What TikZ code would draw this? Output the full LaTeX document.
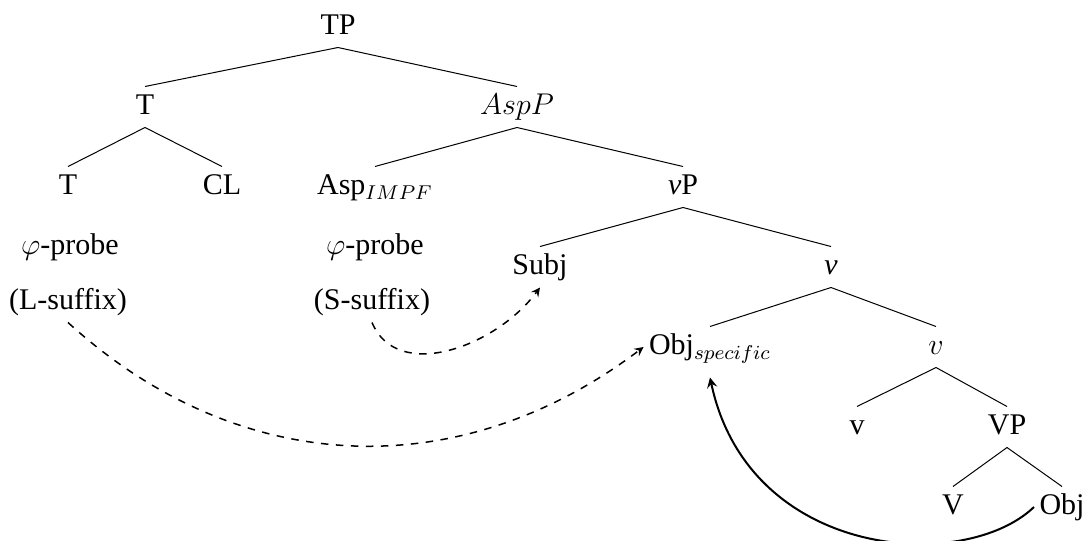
\documentclass[tikz,border=0pt]{standalone}
\usepackage{fontspec}
\setmainfont{Liberation Serif}
\usepackage{tikz}
\usetikzlibrary{arrows}

\tikzset{
  lbl/.style={font=\fontsize{12}{14}\selectfont, inner sep=2pt, text height=9pt, text depth=3pt},
  agree/.style={dashed, semithick, -stealth},
  move/.style={thick, -stealth},
}

\begin{document}
\begin{tikzpicture}[x=0.4pt,y=-0.4pt]
  \useasboundingbox (0,0) rectangle (1085,540);
  % tree nodes
  \node[lbl] (tp) at (338,27) {TP};
  \node[lbl] (t) at (145,107) {T};
  \node[lbl] (aspp) at (517,107) {$AspP$};
  \node[lbl] (tt) at (68,187) {T};
  \node[lbl] (cl) at (222,187) {CL};
  \node[lbl] (asp) at (375,187) {Asp$_{IMPF}$};
  \node[lbl] (vp) at (683,187) {\textit{ν}P};
  \node[lbl] (subj) at (540,267) {Subj};
  \node[lbl] (vbar) at (831,267) {\textit{ν}};
  \node[lbl] (obs) at (710,347) {Obj$_{specific}$};
  \node[lbl] (vsm) at (936,347) {$v$};
  \node[lbl] (vlow) at (857,427) {v};
  \node[lbl] (vph) at (1007,427) {VP};
  \node[lbl] (vv) at (953,507) {V};
  \node[lbl] (obj) at (1062,507) {Obj};
  % probes
  \node[lbl] (tprobe) at (70,247) {$\varphi$-probe};
  \node[lbl] (aprobe) at (375,247) {$\varphi$-probe};
  \node[lbl] (lsuf) at (68,302) {(L-suffix)};
  \node[lbl] (ssuf) at (372,302) {(S-suffix)};

  \foreach \p/\c in {tp/t,tp/aspp,t/tt,t/cl,aspp/asp,aspp/vp,vp/subj,vp/vbar,vbar/obs,vbar/vsm,vsm/vlow,vsm/vph,vph/vv,vph/obj}
    \draw (\p.south) -- (\c.north);

  % agreement and movement
  \draw[agree] (lsuf.south) .. controls +(170,155) and +(-185,140) .. (obs.west);
  \draw[agree] (ssuf.south) .. controls +(25,60) and +(-45,60) .. (subj.south);
  \draw[move] (obj.west) .. controls +(-70,67) and +(39,182) .. ([yshift=-4pt]obs.south);
\end{tikzpicture}
\end{document}
